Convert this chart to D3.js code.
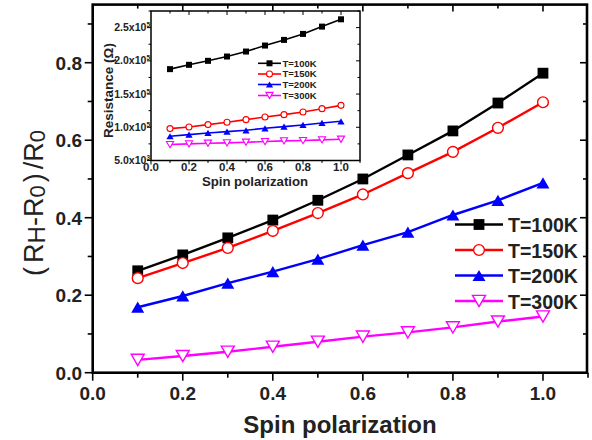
<!DOCTYPE html>
<html><head><meta charset="utf-8">
<script src="https://cdn.jsdelivr.net/npm/d3@7/dist/d3.min.js"></script>
<style>
html,body{margin:0;padding:0;background:#fff;}
svg{display:block;font-family:"Liberation Sans",Arial,sans-serif;}
</style></head>
<body>
<svg id="chart" width="592" height="440"></svg>
<script>
// ---------- data ----------
const spin = [0.1,0.2,0.3,0.4,0.5,0.6,0.7,0.8,0.9,1.0];
const seriesNames = ["T=100K","T=150K","T=200K","T=300K"];
const main100 = [0.263,0.304,0.348,0.394,0.445,0.500,0.562,0.624,0.696,0.773];
const main150 = [0.244,0.283,0.322,0.366,0.412,0.460,0.515,0.570,0.632,0.698];
const main200 = [0.169,0.198,0.231,0.261,0.293,0.329,0.363,0.407,0.445,0.490];
const main300 = [0.033,0.043,0.054,0.067,0.080,0.093,0.104,0.117,0.132,0.145];
const res100 = [187500,194000,200000,206500,214000,223000,231500,240500,251500,262500];
const res150 = [98000,100500,104000,107500,111500,115500,119000,123000,128000,133000];
const res200 = [86500,89000,91500,93500,95500,98500,101000,103500,106500,109000];
const res300 = [74000,75000,76000,76500,77500,78500,79500,80000,81000,82000];
const mainXTicks = [0,0.2,0.4,0.6,0.8,1.0];
const mainXTickLabels = ["0.0","0.2","0.4","0.6","0.8","1.0"];
const mainYTicks = [0,0.2,0.4,0.6,0.8];
const mainYTickLabels = ["0.0","0.2","0.4","0.6","0.8"];
const insetXTicks = [0,0.2,0.4,0.6,0.8,1.0];
const insetXTickLabels = ["0.0","0.2","0.4","0.6","0.8","1.0"];
const insetYTicks = [50000,100000,150000,200000,250000];
const insetYTickMant = ["5.0x10","1.0x10","1.5x10","2.0x10","2.5x10"];
const insetYTickExp = ["3","5","5","5","5"];

const colors = ["#000000","#ff0000","#0000ff","#ff00ff"];
const shapes = ["square","circle","tri","dtri"];

const svg = d3.select("#chart");
const TXT = "#222";

function marker(g, shape, color, s) {
  // s = nominal size in px
  if (shape === "square") {
    return g.append("rect").attr("x",-s/2).attr("y",-s/2).attr("width",s).attr("height",s)
      .attr("fill",color);
  } else if (shape === "circle") {
    return g.append("circle").attr("r",s/2).attr("fill","#fff").attr("stroke",color).attr("stroke-width",s>8?1.4:1.1);
  } else {
    const w = s*1.2, h = w*0.866;
    const pts = shape === "tri"
      ? [[0,-h/2],[w/2,h/2],[-w/2,h/2]]
      : [[0,h/2],[w/2,-h/2],[-w/2,-h/2]];
    const p = g.append("path").attr("d","M"+pts.map(q=>q.join(",")).join("L")+"Z");
    if (shape === "tri") p.attr("fill",color);
    else p.attr("fill","#fff").attr("stroke",color).attr("stroke-width",s>8?1.4:1.1);
    return p;
  }
}

// ---------- main plot ----------
const X0=92.7, X1=588, Y0=372.7, Y1=4.6;
const x = d3.scaleLinear().domain([0,1.1]).range([X0,X1]);
const y = d3.scaleLinear().domain([0,0.95]).range([Y0,Y1]);

const mainSeries = [main100,main150,main200,main300];
const gMain = svg.append("g");
const line = d3.line().x((d,i)=>x(spin[i])).y(d=>y(d));
mainSeries.forEach((s,k)=>{
  gMain.append("path").datum(s).attr("d",line).attr("fill","none")
    .attr("stroke",colors[k]).attr("stroke-width",2.4);
  s.forEach((v,i)=>{
    const g = gMain.append("g").attr("transform",`translate(${x(spin[i])},${y(v)})`);
    marker(g, shapes[k], colors[k], 10.8);
  });
});

// axes main
const axW = 2.6;
const axB = d3.axisBottom(x).tickValues(d3.range(0,11).map(i=>i/10)).tickSize(0).tickFormat("");
const gAx = svg.append("g");
// frame
gAx.append("rect").attr("x",X0).attr("y",Y1).attr("width",X1-X0-1).attr("height",Y0-Y1)
  .attr("fill","none").attr("stroke","#000").attr("stroke-width",axW);
const minorX = d3.range(0,12).map(i=>i/10).filter(v=>v<=1.1);
minorX.forEach((v,i)=>{
  const L = (i%2===0)?7:4;
  gAx.append("line").attr("x1",x(v)).attr("x2",x(v)).attr("y1",Y0).attr("y2",Y0+L+1).attr("stroke","#000").attr("stroke-width",1.6);
  if (v>0 && v<1.1) gAx.append("line").attr("x1",x(v)).attr("x2",x(v)).attr("y1",Y1).attr("y2",Y1+L).attr("stroke","#000").attr("stroke-width",1.6);
});
const minorY = d3.range(0,10).map(i=>i/10);
minorY.forEach((v,i)=>{
  const L = (i%2===0)?7:4;
  gAx.append("line").attr("x1",X0-L-1).attr("x2",X0).attr("y1",y(v)).attr("y2",y(v)).attr("stroke","#000").attr("stroke-width",1.6);
  if (v>0) gAx.append("line").attr("x1",X1-1-L).attr("x2",X1-1).attr("y1",y(v)).attr("y2",y(v)).attr("stroke","#000").attr("stroke-width",1.6);
});
mainXTicks.forEach((v,i)=>{
  gAx.append("text").attr("x",x(v)).attr("y",400).attr("text-anchor","middle")
    .attr("font-size",19).attr("font-weight","bold").attr("fill",TXT).text(mainXTickLabels[i]);
});
mainYTicks.forEach((v,i)=>{
  gAx.append("text").attr("x",82).attr("y",y(v)+7).attr("text-anchor","end")
    .attr("font-size",19).attr("font-weight","bold").attr("fill",TXT).text(mainYTickLabels[i]);
});
// axis titles
svg.append("text").attr("x",340).attr("y",433).attr("text-anchor","middle")
  .attr("font-size",24).attr("font-weight","bold").attr("fill",TXT).text("Spin polarization");
const yl = svg.append("text").attr("transform","translate(43,203) rotate(-90)")
  .attr("text-anchor","middle").attr("font-size",27).attr("fill",TXT);
yl.append("tspan").text("(");
yl.append("tspan").attr("dx",4).text("R");
yl.append("tspan").attr("font-size",24).attr("dy",2).text("H");
yl.append("tspan").attr("dy",-2).text("-R");
yl.append("tspan").attr("font-size",22).attr("dy",2).text("0");
yl.append("tspan").attr("dy",-2).attr("dx",3).text(")");
yl.append("tspan").attr("dx",4).text("/R");
yl.append("tspan").attr("font-size",22).attr("dy",2).text("0");

// main legend
const legY = [224.5,250,275.5,301];
seriesNames.forEach((n,k)=>{
  svg.append("line").attr("x1",455).attr("x2",503).attr("y1",legY[k]).attr("y2",legY[k])
    .attr("stroke",colors[k]).attr("stroke-width",2.4);
  const g = svg.append("g").attr("transform",`translate(479,${legY[k]})`);
  marker(g, shapes[k], colors[k], 10.8);
  svg.append("text").attr("x",508).attr("y",legY[k]+7.5).attr("font-size",19.5)
    .attr("font-weight","bold").attr("fill",TXT).text(n);
});

// ---------- inset ----------
const IX0=151, IX1=360, IY0=160.5, IY1=11;
const xi = d3.scaleLinear().domain([0,1.1]).range([IX0,IX1]);
const yi = d3.scaleLinear().domain([50000,275000]).range([IY0,IY1]);
const gIn = svg.append("g");
gIn.append("rect").attr("x",IX0).attr("y",IY1).attr("width",IX1-IX0).attr("height",IY0-IY1)
  .attr("fill","#fff").attr("stroke","#000").attr("stroke-width",1.5);
const insetSeries = [res100,res150,res200,res300];
const linei = d3.line().x((d,i)=>xi(spin[i])).y(d=>yi(d));
insetSeries.forEach((s,k)=>{
  gIn.append("path").datum(s).attr("d",linei).attr("fill","none")
    .attr("stroke",colors[k]).attr("stroke-width",1.6);
  s.forEach((v,i)=>{
    const g = gIn.append("g").attr("transform",`translate(${xi(spin[i])},${yi(v)})`);
    marker(g, shapes[k], colors[k], 6);
  });
});
minorX.forEach((v,i)=>{
  const L = (i%2===0)?4:2.5;
  gIn.append("line").attr("x1",xi(v)).attr("x2",xi(v)).attr("y1",IY0).attr("y2",IY0+L).attr("stroke","#000").attr("stroke-width",1);
  if (v>0 && v<1.1) gIn.append("line").attr("x1",xi(v)).attr("x2",xi(v)).attr("y1",IY1).attr("y2",IY1+L).attr("stroke","#000").attr("stroke-width",1);
});
d3.range(0,10).map(i=>50000+i*25000).forEach((v,i)=>{
  const L = (i%2===0)?4:2.5;
  gIn.append("line").attr("x1",IX0-L).attr("x2",IX0).attr("y1",yi(v)).attr("y2",yi(v)).attr("stroke","#000").attr("stroke-width",1);
  if (v>50000) gIn.append("line").attr("x1",IX1-L).attr("x2",IX1).attr("y1",yi(v)).attr("y2",yi(v)).attr("stroke","#000").attr("stroke-width",1);
});
insetXTicks.forEach((v,i)=>{
  gIn.append("text").attr("x",xi(v)).attr("y",170.5).attr("text-anchor","middle")
    .attr("font-size",11.5).attr("font-weight","bold").attr("fill",TXT).text(insetXTickLabels[i]);
});
insetYTicks.forEach((v,i)=>{
  const t = gIn.append("text").attr("x",150).attr("y",yi(v)+3.5).attr("text-anchor","end")
    .attr("font-size",10.5).attr("font-weight","bold").attr("fill",TXT);
  t.append("tspan").text(insetYTickMant[i]);
  t.append("tspan").attr("font-size",6.5).attr("dy",-4).text(insetYTickExp[i]);
});
gIn.append("text").attr("x",255).attr("y",185.5).attr("text-anchor","middle")
  .attr("font-size",13.2).attr("font-weight","bold").attr("fill",TXT).text("Spin polarization");
gIn.append("text").attr("transform","translate(112.5,90.5) rotate(-90)").attr("text-anchor","middle")
  .attr("font-size",13.5).attr("font-weight","bold").attr("fill",TXT).text("Resistance (\u03A9)");
// inset legend
const ilegY = [63.3,74,84.5,95.5];
seriesNames.forEach((n,k)=>{
  gIn.append("line").attr("x1",258).attr("x2",281).attr("y1",ilegY[k]).attr("y2",ilegY[k])
    .attr("stroke",colors[k]).attr("stroke-width",1.6);
  const g = gIn.append("g").attr("transform",`translate(269.5,${ilegY[k]})`);
  marker(g, shapes[k], colors[k], 6);
  gIn.append("text").attr("x",282.5).attr("y",ilegY[k]+3.4).attr("font-size",9.5)
    .attr("font-weight","bold").attr("fill",TXT).text(n);
});
</script>
</body></html>
